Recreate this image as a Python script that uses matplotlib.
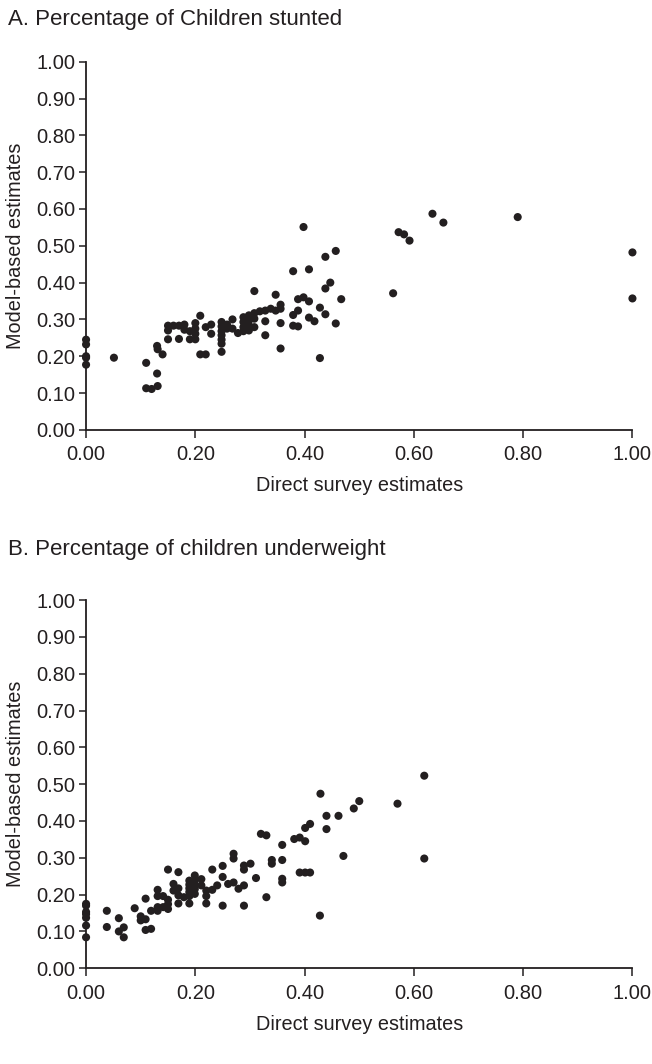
import matplotlib
matplotlib.use("Agg")
import matplotlib.pyplot as plt

plt.rcParams['font.family'] = ['Liberation Sans', 'DejaVu Sans']

# Panel A: stunting (direct survey vs model-based)
stunt_direct = [
    0, 0, 0, 0, 0, 0.051, 0.11, 0.11, 0.12, 0.131, 0.13, 0.13, 0.131, 0.14,
    0.15, 0.15, 0.15, 0.16, 0.17, 0.17, 0.18, 0.18, 0.19, 0.19,
    0.20, 0.20, 0.20, 0.20, 0.209, 0.209, 0.219, 0.219, 0.229, 0.229,
    0.248, 0.248, 0.248, 0.248, 0.248, 0.248, 0.248, 0.258, 0.258, 0.268, 0.268, 0.278,
    0.288, 0.288, 0.288, 0.288, 0.298, 0.298, 0.298, 0.298,
    0.308, 0.308, 0.308, 0.308, 0.318, 0.328, 0.338, 0.328, 0.328,
    0.347, 0.347, 0.356, 0.356, 0.356, 0.356,
    0.398, 0.438, 0.457, 0.379, 0.408, 0.447, 0.438, 0.467,
    0.388, 0.398, 0.408, 0.388, 0.379, 0.428, 0.438, 0.408, 0.418, 0.379, 0.388,
    0.457, 0.428, 0.562, 0.572, 0.582, 0.592, 0.634, 0.654, 0.79, 1.0, 1.0,
]
stunt_model = [
    0.245, 0.232, 0.20, 0.196, 0.177, 0.196, 0.182, 0.113, 0.111, 0.119, 0.153, 0.228, 0.219, 0.205,
    0.283, 0.27, 0.246, 0.283, 0.283, 0.247, 0.286, 0.272, 0.268, 0.246,
    0.29, 0.275, 0.261, 0.246, 0.31, 0.205, 0.205, 0.279, 0.286, 0.261,
    0.293, 0.281, 0.268, 0.257, 0.245, 0.234, 0.212, 0.286, 0.275, 0.30, 0.275, 0.263,
    0.306, 0.293, 0.279, 0.268, 0.311, 0.297, 0.284, 0.27,
    0.377, 0.317, 0.302, 0.279, 0.322, 0.324, 0.329, 0.295, 0.257,
    0.367, 0.324, 0.34, 0.329, 0.29, 0.221,
    0.551, 0.47, 0.486, 0.431, 0.436, 0.40, 0.384, 0.355,
    0.355, 0.36, 0.349, 0.324, 0.312, 0.332, 0.314, 0.305, 0.295, 0.283, 0.281,
    0.289, 0.195, 0.371, 0.537, 0.531, 0.514, 0.587, 0.563, 0.578, 0.482, 0.357,
]

# Panel B: underweight
uw_direct = [
    0, 0, 0, 0, 0, 0, 0, 0.038, 0.038, 0.06, 0.06, 0.069, 0.069, 0.089,
    0.10, 0.10, 0.109, 0.109, 0.109, 0.119, 0.119, 0.131, 0.131, 0.141,
    0.131, 0.131, 0.141, 0.15, 0.15, 0.15, 0.15, 0.16, 0.16,
    0.169, 0.169, 0.169, 0.169, 0.179,
    0.189, 0.189, 0.189, 0.189, 0.189, 0.189,
    0.199, 0.199, 0.199, 0.199, 0.199, 0.211, 0.211, 0.22, 0.22, 0.22,
    0.231, 0.231, 0.24, 0.25, 0.25, 0.25, 0.26, 0.27, 0.27, 0.27, 0.279,
    0.289, 0.289, 0.289, 0.289, 0.301, 0.311, 0.32, 0.33, 0.33, 0.34, 0.34,
    0.359, 0.359, 0.359, 0.359, 0.381, 0.391, 0.401, 0.401, 0.41,
    0.391, 0.401, 0.41, 0.429, 0.44, 0.462, 0.44, 0.49, 0.5, 0.471,
    0.57, 0.619, 0.619, 0.428,
]
uw_model = [
    0.175, 0.17, 0.153, 0.147, 0.137, 0.116, 0.084, 0.156, 0.112, 0.136, 0.10, 0.111, 0.084, 0.163,
    0.141, 0.13, 0.133, 0.189, 0.104, 0.107, 0.156, 0.213, 0.196, 0.196,
    0.156, 0.166, 0.166, 0.161, 0.174, 0.186, 0.268, 0.229, 0.211,
    0.261, 0.217, 0.198, 0.176, 0.193,
    0.238, 0.227, 0.217, 0.207, 0.196, 0.176,
    0.252, 0.239, 0.227, 0.215, 0.202, 0.242, 0.225, 0.211, 0.196, 0.176,
    0.268, 0.213, 0.225, 0.278, 0.248, 0.17, 0.229, 0.233, 0.311, 0.298, 0.216,
    0.279, 0.268, 0.225, 0.17, 0.284, 0.245, 0.365, 0.361, 0.193, 0.294, 0.284,
    0.335, 0.294, 0.243, 0.233, 0.351, 0.355, 0.345, 0.381, 0.392,
    0.26, 0.26, 0.26, 0.474, 0.414, 0.414, 0.378, 0.434, 0.454, 0.305,
    0.447, 0.523, 0.298, 0.143,
]

ticks = [0.0, 0.1, 0.2, 0.3, 0.4, 0.5, 0.6, 0.7, 0.8, 0.9, 1.0]
xticks = [0.0, 0.2, 0.4, 0.6, 0.8, 1.0]
ink = "#231f20"


def plot_panel(ax, x, y):
    ax.scatter(x, y, s=34, color=ink, edgecolors="none", zorder=3, clip_on=False)
    ax.set_xlim(0, 1)
    ax.set_ylim(0, 1)
    ax.set_yticks(ticks)
    ax.set_yticklabels([f"{t:.2f}" for t in ticks])
    ax.set_xticks(xticks)
    ax.set_xticklabels([f"{t:.2f}" for t in xticks])
    ax.spines["top"].set_visible(False)
    ax.spines["right"].set_visible(False)
    for s in ("left", "bottom"):
        ax.spines[s].set_color(ink)
        ax.spines[s].set_linewidth(1.3)
    ax.tick_params(direction="out", length=5, width=1.1, color=ink,
                   labelsize=14.5, labelcolor=ink)
    ax.tick_params(axis="y", pad=2.5)
    ax.tick_params(axis="x", length=6, pad=5)
    ax.set_xlabel("Direct survey estimates", fontsize=14.3, color=ink, va="center")
    ax.set_ylabel("Model-based estimates", fontsize=14.3, color=ink, va="center")
    ax.xaxis.set_label_coords(0.5, -0.152)
    ax.yaxis.set_label_coords(-0.13, 0.5)


fig = plt.figure(figsize=(6.52, 10.64), dpi=100)
ax1 = fig.add_axes([0.132, 0.596, 0.838, 0.346])
ax2 = fig.add_axes([0.132, 0.090, 0.838, 0.346])

plot_panel(ax1, stunt_direct, stunt_model)
plot_panel(ax2, uw_direct, uw_model)

# panel headings sit flush left on the figure
fig.text(0.013, 0.982, "A. Percentage of Children stunted", fontsize=16,
         color=ink, ha="left", va="center")
fig.text(0.013, 0.484, "B. Percentage of children underweight", fontsize=16,
         color=ink, ha="left", va="center")

fig.savefig("out.png", dpi=100)
